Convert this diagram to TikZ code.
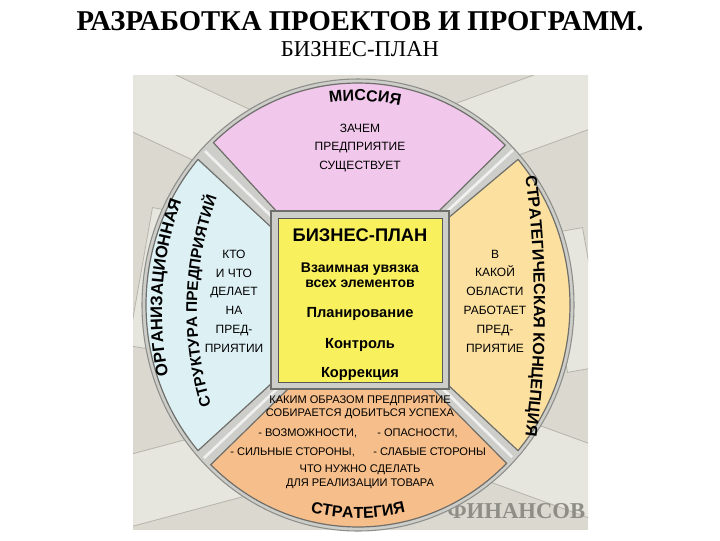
\documentclass[tikz,border=0pt]{standalone}
\usepackage{fontspec}
\setmainfont{Liberation Serif}
\setsansfont{Liberation Sans}
\usetikzlibrary{calc,decorations.text}
\definecolor{photo}{HTML}{DAD8CF}
\definecolor{billc}{HTML}{E6E5DE}
\definecolor{billedge}{HTML}{B5B4AA}
\definecolor{rimc}{HTML}{CDCDC9}
\definecolor{rimdark}{HTML}{8E8E8A}
\definecolor{pinkc}{HTML}{F1C8EB}
\definecolor{bluec}{HTML}{DDF1F5}
\definecolor{yelc}{HTML}{FBE0A0}
\definecolor{orc}{HTML}{F5BE8A}
\definecolor{cyel}{HTML}{F9F05E}
\definecolor{edgec}{HTML}{6E6E6A}
\definecolor{finc}{HTML}{8E8E86}
\begin{document}
\begin{tikzpicture}[x=0.75pt,y=-0.75pt,
  sectorstyle/.style={draw=edgec, line width=0.9pt, line join=round},
  billstyle/.style={draw=billedge, fill=billc, line width=0.6pt},
  innertext/.style={font=\sffamily\fontsize{9}{14.1}\selectfont, align=center, inner sep=0pt, text=black},
  ortext/.style={font=\sffamily\fontsize{8.3}{9.75}\selectfont, inner sep=0pt, text=black},
  centraltext/.style={font=\sffamily\bfseries\fontsize{11}{11.25}\selectfont, inner sep=0pt, align=center}]
\useasboundingbox (0,0) rectangle (720,540);
\fill[white] (0,0) rectangle (720,540);
% titles
\node[font=\bfseries\fontsize{21.5}{24}\selectfont, inner sep=0pt, anchor=base] (title) at (360,30) {РАЗРАБОТКА ПРОЕКТОВ И ПРОГРАММ.};
\node[font=\fontsize{17}{20}\selectfont, inner sep=0pt, anchor=base] (subtitle) at (360,56) {БИЗНЕС-ПЛАН};
% photo background with banknotes
\fill[photo] (133,75) rectangle (588,530);
\begin{scope}
\clip (133,75) rectangle (588,530);
\draw[billstyle, rotate around={-25:(180,110)}] (110,80) rectangle (270,150);
\draw[billstyle, rotate around={20:(540,110)}] (460,75) rectangle (620,145);
\draw[billstyle, rotate around={15:(170,480)}] (100,445) rectangle (260,515);
\draw[billstyle, rotate around={-20:(545,470)}] (470,430) rectangle (630,500);
\draw[billstyle, rotate around={80:(160,280)}] (90,260) rectangle (230,300);
\draw[billstyle, rotate around={-80:(575,300)}] (505,280) rectangle (645,320);
\node[font=\bfseries\fontsize{17}{20}\selectfont, text=finc, inner sep=0pt, anchor=base west] (fin) at (447,518) {ФИНАНСОВ};
\end{scope}
% wheel
\coordinate (C) at (358,305);
\fill[rimc, draw=rimdark, line width=0.8pt] (C) ellipse [x radius=216, y radius=226];
% light stripes in the gaps
\draw[white, line width=2pt, opacity=0.7] (442,216) -- (513,150);
\draw[white, line width=2pt, opacity=0.7] (275,220) -- (205,151);
\draw[white, line width=2pt, opacity=0.7] (280,386) -- (204,458);
\draw[white, line width=2pt, opacity=0.7] (440,386) -- (512,457);
% mission
\draw[sectorstyle, fill=pinkc] (279,214) -- ($(C)+(-133:212 and 222)$) arc[start angle=-133, end angle=-46, x radius=212, y radius=222] -- (437,213) -- cycle;
% strategic concept
\draw[sectorstyle, fill=yelc] (447,219) -- ($(C)+(-41:212 and 222)$) arc[start angle=-41, end angle=41, x radius=212, y radius=222] -- (447,384) -- cycle;
% strategy
\draw[sectorstyle, fill=orc] (433,389) -- ($(C)+(45.5:212 and 222)$) arc[start angle=45.5, end angle=134, x radius=212, y radius=222] -- (288,389) -- cycle;
% organisation
\draw[sectorstyle, fill=bluec] (272,383) -- ($(C)+(139:212 and 222)$) arc[start angle=139, end angle=221, x radius=212, y radius=222] -- (271,227) -- cycle;
% central square
\node[draw=edgec, fill=rimc, line width=0.8pt, minimum width=178*0.75pt, minimum height=178*0.75pt, inner sep=0pt] (frame) at (360,300) {};
\node[draw=gray!70!black, fill=cyel, line width=0.5pt, minimum width=164*0.75pt, minimum height=164*0.75pt, inner sep=0pt] (plan) at (360,300) {};
% central texts
\node[font=\sffamily\bfseries\fontsize{13.7}{15}\selectfont, inner sep=0pt, anchor=base] (bp) at (360,241.5) {БИЗНЕС-ПЛАН};
\node[centraltext, font=\sffamily\bfseries\fontsize{10.5}{11.25}\selectfont] (link) at (360,275) {Взаимная увязка\\всех элементов};
\node[centraltext] (planning) at (360,314) {Планирование};
\node[centraltext] (control) at (360,345) {Контроль};
\node[centraltext] (correct) at (360,374) {Коррекция};
% sector texts
\node[innertext] (why) at (360,148) {ЗАЧЕМ\\ПРЕДПРИЯТИЕ\\СУЩЕСТВУЕТ};
\node[innertext] (who) at (234,301) {КТО\\И ЧТО\\ДЕЛАЕТ\\НА\\ПРЕД-\\ПРИЯТИИ};
\node[innertext] (where) at (495,301) {В\\КАКОЙ\\ОБЛАСТИ\\РАБОТАЕТ\\ПРЕД-\\ПРИЯТИЕ};
\node[ortext, align=center] (how) at (360,407.5) {КАКИМ ОБРАЗОМ ПРЕДПРИЯТИЕ\\СОБИРАЕТСЯ ДОБИТЬСЯ УСПЕХА};
\node[ortext, anchor=west] (opp) at (258,433) {- ВОЗМОЖНОСТИ,};
\node[ortext, anchor=west] (threat) at (377,433) {- ОПАСНОСТИ,};
\node[ortext, anchor=west] (strong) at (230,452) {- СИЛЬНЫЕ СТОРОНЫ,};
\node[ortext, anchor=west] (weak) at (373,452) {- СЛАБЫЕ СТОРОНЫ};
\node[ortext, align=center, font=\sffamily\fontsize{8.3}{10.5}\selectfont] (todo) at (360,477) {ЧТО НУЖНО СДЕЛАТЬ\\ДЛЯ РЕАЛИЗАЦИИ ТОВАРА};
% curved titles
\path[decorate, decoration={text along path, text align=center, text={|\sffamily\bfseries\fontsize{12}{12}\selectfont|МИССИЯ}}]
  ($(C)+(-112:200 and 204)$) arc[start angle=-112, end angle=-64, x radius=200, y radius=204];
\path[decorate, decoration={text along path, text align=center, text={|\sffamily\bfseries\fontsize{12}{12}\selectfont|СТРАТЕГИЯ}}]
  ($(C)+(112:205 and 213)$) arc[start angle=112, end angle=68, x radius=205, y radius=213];
\coordinate (rc) at (-454,306);
\path[decorate, decoration={text along path, text align=center, text={|\sffamily\bfseries\fontsize{12.1}{12}\selectfont|СТРАТЕГИЧЕСКАЯ КОНЦЕПЦИЯ}}]
  ($(rc)+(-9:988)$) arc[start angle=-9, end angle=9, radius=988];
\coordinate (lo) at (486,311.5);
\path[decorate, decoration={text along path, text align=center, text={|\sffamily\bfseries\fontsize{12.5}{12}\selectfont|ОРГАНИЗАЦИОННАЯ}}]
  ($(lo)+(159.3:324)$) arc[start angle=159.3, end angle=209.3, radius=324];
\coordinate (li) at (523,310);
\path[decorate, decoration={text along path, text align=center, text={|\sffamily\bfseries\fontsize{11.5}{12}\selectfont|СТРУКТУРА ПРЕДПРИЯТИЙ}}]
  ($(li)+(151.6:326)$) arc[start angle=151.6, end angle=211.6, radius=326];
\end{tikzpicture}
\end{document}
